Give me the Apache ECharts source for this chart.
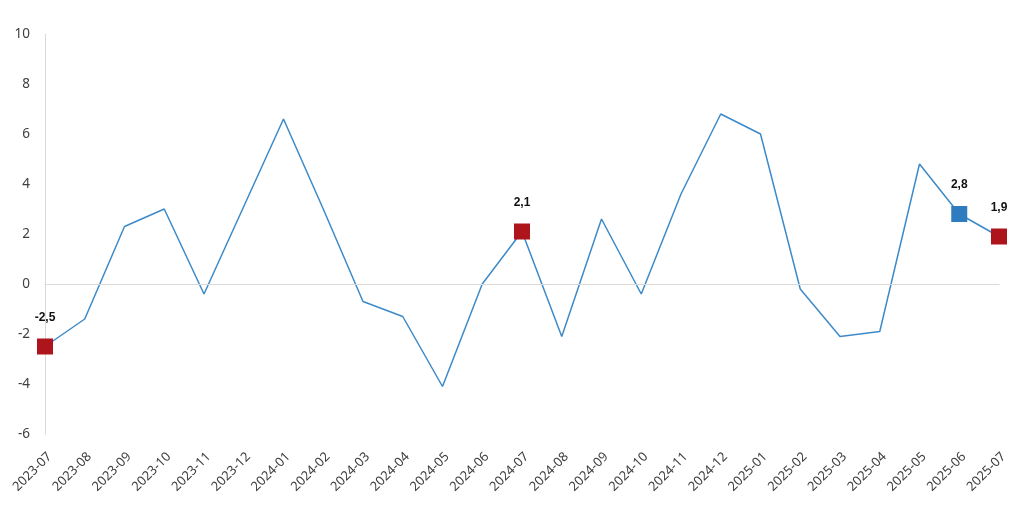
<!DOCTYPE html>
<html>
<head>
<meta charset="utf-8">
<script src="https://cdn.jsdelivr.net/npm/echarts@6/dist/echarts.min.js"></script>
<style>
  html, body { margin: 0; padding: 0; background: #fff; }
  #chart { width: 1024px; height: 514px; }
</style>
</head>
<body>
<div id="chart"></div>
<script>
// months on the x axis
const months = [
  '2023-07', '2023-08', '2023-09', '2023-10', '2023-11', '2023-12',
  '2024-01', '2024-02', '2024-03', '2024-04', '2024-05', '2024-06',
  '2024-07', '2024-08', '2024-09', '2024-10', '2024-11', '2024-12',
  '2025-01', '2025-02', '2025-03', '2025-04', '2025-05', '2025-06', '2025-07'
];
// values
const values = [
  -2.5, -1.4, 2.3, 3.0, -0.4, 3.1,
  6.6, 3.0, -0.7, -1.3, -4.1, 0.0,
  2.1, -2.1, 2.6, -0.4, 3.6, 6.8,
  6.0, -0.2, -2.1, -1.9, 4.8, 2.8, 1.9
];
// highlighted points
const redPoints = ['2023-07', '2024-07', '2025-07'];
const bluePoints = ['2025-06'];

const chart = echarts.init(document.getElementById('chart'));

const seriesData = values.map((v, i) => {
  const m = months[i];
  if (redPoints.includes(m) || bluePoints.includes(m)) {
    return {
      value: v,
      symbol: 'rect',
      symbolSize: 16,
      itemStyle: { color: redPoints.includes(m) ? '#ad141c' : '#2e7bbf' },
      label: {
        show: true,
        position: 'top',
        distance: 15,
        formatter: (p) => p.value.toFixed(1).replace('.', ','),
        fontFamily: 'Liberation Sans',
        fontWeight: 'bold',
        fontSize: 12,
        color: '#111'
      }
    };
  }
  return { value: v, symbol: 'none' };
});

const option = {
  animation: false,
  grid: { left: 45, right: 25, top: 34, bottom: 80 },
  xAxis: {
    type: 'category',
    data: months,
    boundaryGap: false,
    axisLine: { lineStyle: { color: '#d9d9d9' } },
    axisTick: { show: false },
    axisLabel: {
      rotate: 45,
      interval: 0,
      margin: 16,
      verticalAlign: 'top',
      fontFamily: 'Noto Sans',
      fontSize: 13,
      color: '#404040'
    }
  },
  yAxis: {
    type: 'value',
    min: -6,
    max: 10,
    interval: 2,
    axisLine: { show: true, lineStyle: { color: '#d9d9d9' } },
    axisTick: { show: false },
    splitLine: { show: false },
    axisLabel: {
      margin: 15,
      fontFamily: 'Noto Sans',
      fontSize: 13.5,
      color: '#404040'
    }
  },
  series: [
    {
      type: 'line',
      data: seriesData,
      lineStyle: { color: '#3d8ac9', width: 1.5 },
      itemStyle: { color: '#3d8ac9' },
      z: 3,
      markLine: {
        silent: true,
        symbol: 'none',
        label: { show: false },
        lineStyle: { color: '#d9d9d9', width: 1, type: 'solid' },
        data: [{ yAxis: 0 }]
      }
    }
  ]
};

chart.setOption(option);
</script>
</body>
</html>
